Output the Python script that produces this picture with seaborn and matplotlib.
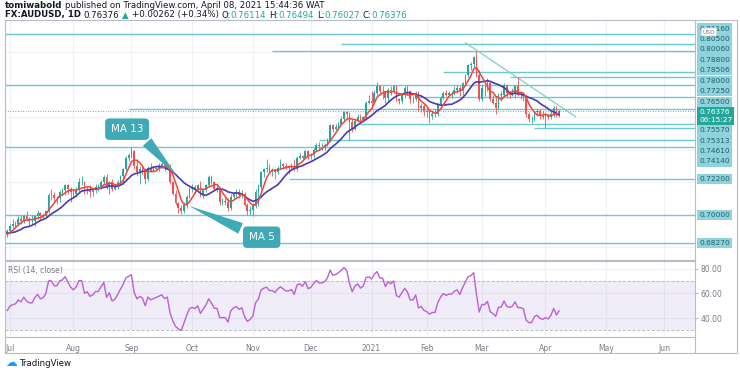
import numpy as np
import pandas as pd
import matplotlib
matplotlib.use('Agg')
import matplotlib.pyplot as plt
import matplotlib.transforms as mtransforms
import seaborn as sns

sns.set_style('white')
plt.rcParams['font.family'] = ['DejaVu Sans']

# ---- data (AUDUSD daily) ----
# June 2020 closes, only used to warm up the MA / RSI indicators
warmup_closes = [0.6960, 0.6960, 0.6950, 0.6990, 0.6970, 0.7010, 0.6850, 0.6870,
                 0.6920, 0.6900, 0.6870, 0.6860, 0.6850, 0.6920, 0.6910, 0.6870, 0.6880, 0.6860, 0.6880]
first_open = 0.6880

closes = [
    0.6900,  # Jun 30
    # Jul
    0.6930, 0.6940, 0.6945, 0.6970, 0.6960, 0.6990, 0.6970, 0.6960, 0.6960, 0.6990, 0.7010, 0.6990,
    0.6995, 0.7020, 0.7120, 0.7120, 0.7100, 0.7100, 0.7140, 0.7150, 0.7180, 0.7160, 0.7140,
    # Aug
    0.7130, 0.7150, 0.7200, 0.7200, 0.7150, 0.7160, 0.7140, 0.7150, 0.7170, 0.7170, 0.7200, 0.7230,
    0.7170, 0.7200, 0.7160, 0.7170, 0.7200, 0.7240, 0.7280, 0.7350, 0.7370,
    # Sep
    0.7390, 0.7300, 0.7260, 0.7280, 0.7270, 0.7220, 0.7290, 0.7270, 0.7280, 0.7290, 0.7300, 0.7310,
    0.7290, 0.7300, 0.7200, 0.7130, 0.7070, 0.7040, 0.7020, 0.7060, 0.7110, 0.7160,
    # Oct
    0.7170, 0.7160, 0.7180, 0.7120, 0.7150, 0.7180, 0.7230, 0.7200, 0.7160, 0.7160, 0.7080, 0.7080,
    0.7080, 0.7040, 0.7110, 0.7130, 0.7140, 0.7120, 0.7130, 0.7060, 0.7020, 0.7030,
    # Nov
    0.7050, 0.7140, 0.7170, 0.7260, 0.7280, 0.7290, 0.7270, 0.7270, 0.7260, 0.7290, 0.7310, 0.7300,
    0.7290, 0.7290, 0.7300, 0.7280, 0.7350, 0.7360, 0.7350, 0.7390, 0.7360,
    # Dec
    0.7370, 0.7400, 0.7430, 0.7420, 0.7420, 0.7430, 0.7460, 0.7550, 0.7530, 0.7540, 0.7560, 0.7590,
    0.7630, 0.7620, 0.7570, 0.7530, 0.7580, 0.7600, 0.7580, 0.7600, 0.7690, 0.7700,
    # Jan
    0.7690, 0.7750, 0.7790, 0.7760, 0.7760, 0.7720, 0.7770, 0.7760, 0.7790, 0.7710, 0.7700, 0.7740,
    0.7780, 0.7760, 0.7710, 0.7710, 0.7750, 0.7660, 0.7670, 0.7640,
    # Feb
    0.7630, 0.7610, 0.7620, 0.7620, 0.7680, 0.7720, 0.7750, 0.7740, 0.7750, 0.7750, 0.7770, 0.7780,
    0.7760, 0.7810, 0.7860, 0.7920, 0.7930, 0.7970, 0.7860, 0.7710,
    # Mar
    0.7780, 0.7780, 0.7810, 0.7710, 0.7690, 0.7660, 0.7740, 0.7740, 0.7800, 0.7750, 0.7740, 0.7750,
    0.7790, 0.7740, 0.7740, 0.7730, 0.7620, 0.7590, 0.7590, 0.7630, 0.7640, 0.7610, 0.7600,
    # Apr
    0.7610, 0.7600, 0.7620, 0.7660, 0.7611, 0.76376,
]

highs = [
    0.6910,
    0.6945, 0.6975, 0.6960, 0.6990, 0.6995, 0.7000, 0.7020, 0.6985, 0.7000, 0.6995, 0.7030, 0.7015,
    0.7010, 0.7025, 0.7135, 0.7160, 0.7140, 0.7115, 0.7150, 0.7165, 0.7190, 0.7190, 0.7170,
    0.7160, 0.7170, 0.7225, 0.7240, 0.7210, 0.7170, 0.7185, 0.7165, 0.7190, 0.7190, 0.7215, 0.7245,
    0.7250, 0.7210, 0.7220, 0.7190, 0.7215, 0.7245, 0.7290, 0.7360, 0.7380,
    0.7414, 0.7400, 0.7340, 0.7300, 0.7300, 0.7290, 0.7300, 0.7320, 0.7300, 0.7300, 0.7320, 0.7345,
    0.7320, 0.7320, 0.7310, 0.7210, 0.7150, 0.7080, 0.7060, 0.7075, 0.7120, 0.7170,
    0.7190, 0.7180, 0.7190, 0.7210, 0.7160, 0.7190, 0.7243, 0.7240, 0.7210, 0.7190, 0.7170, 0.7100,
    0.7110, 0.7100, 0.7130, 0.7140, 0.7160, 0.7160, 0.7150, 0.7140, 0.7070, 0.7050,
    0.7070, 0.7160, 0.7190, 0.7270, 0.7290, 0.7340, 0.7310, 0.7290, 0.7280, 0.7300, 0.7340, 0.7320,
    0.7320, 0.7300, 0.7320, 0.7340, 0.7360, 0.7380, 0.7370, 0.7400, 0.7400,
    0.7380, 0.7410, 0.7440, 0.7450, 0.7440, 0.7440, 0.7470, 0.7560, 0.7560, 0.7560, 0.7570, 0.7610,
    0.7640, 0.7640, 0.7630, 0.7590, 0.7590, 0.7620, 0.7620, 0.7610, 0.7700, 0.7740,
    0.7760, 0.7770, 0.7820, 0.7800, 0.7790, 0.7760, 0.7780, 0.7790, 0.7800, 0.7800, 0.7720, 0.7750,
    0.7790, 0.7800, 0.7770, 0.7730, 0.7760, 0.7760, 0.7690, 0.7680,
    0.7660, 0.7650, 0.7640, 0.7650, 0.7690, 0.7730, 0.7760, 0.7770, 0.7760, 0.7760, 0.7790, 0.7800,
    0.7790, 0.7820, 0.7870, 0.7930, 0.7940, 0.7980, 0.8007, 0.7890,
    0.7800, 0.7800, 0.7840, 0.7820, 0.7740, 0.7730, 0.7750, 0.7760, 0.7810, 0.7800, 0.7760, 0.7780,
    0.7800, 0.7849, 0.7760, 0.7750, 0.7740, 0.7630, 0.7610, 0.7640, 0.7650, 0.7650, 0.7640,
    0.7630, 0.7620, 0.7640, 0.7670, 0.7670, 0.76494,
]

lows = [
    0.6860,
    0.6880, 0.6920, 0.6925, 0.6930, 0.6945, 0.6950, 0.6960, 0.6930, 0.6945, 0.6930, 0.6975, 0.6965,
    0.6975, 0.6985, 0.7010, 0.7090, 0.7075, 0.7065, 0.7080, 0.7115, 0.7120, 0.7130, 0.7080,
    0.7110, 0.7110, 0.7140, 0.7180, 0.7130, 0.7130, 0.7110, 0.7115, 0.7135, 0.7145, 0.7160, 0.7190,
    0.7160, 0.7130, 0.7145, 0.7150, 0.7160, 0.7180, 0.7190, 0.7270, 0.7330,
    0.7350, 0.7280, 0.7240, 0.7190, 0.7250, 0.7190, 0.7210, 0.7260, 0.7260, 0.7270, 0.7270, 0.7290,
    0.7270, 0.7280, 0.7190, 0.7120, 0.7060, 0.7010, 0.7006, 0.7010, 0.7040, 0.7100,
    0.7140, 0.7130, 0.7150, 0.7110, 0.7100, 0.7140, 0.7170, 0.7190, 0.7150, 0.7140, 0.7060, 0.7060,
    0.7060, 0.7020, 0.7030, 0.7090, 0.7110, 0.7100, 0.7100, 0.7050, 0.7000, 0.6995,
    0.6991, 0.7040, 0.7050, 0.7160, 0.7230, 0.7260, 0.7260, 0.7240, 0.7220, 0.7250, 0.7280, 0.7280,
    0.7280, 0.7250, 0.7280, 0.7270, 0.7270, 0.7340, 0.7340, 0.7350, 0.7340,
    0.7340, 0.7350, 0.7390, 0.7400, 0.7400, 0.7400, 0.7420, 0.7450, 0.7510, 0.7520, 0.7520, 0.7550,
    0.7580, 0.7590, 0.7462, 0.7510, 0.7520, 0.7570, 0.7570, 0.7570, 0.7590, 0.7680,
    0.7660, 0.7680, 0.7740, 0.7740, 0.7710, 0.7690, 0.7700, 0.7740, 0.7750, 0.7700, 0.7680, 0.7690,
    0.7720, 0.7740, 0.7690, 0.7690, 0.7700, 0.7640, 0.7630, 0.7610,
    0.7600, 0.7564, 0.7590, 0.7600, 0.7610, 0.7670, 0.7710, 0.7730, 0.7730, 0.7720, 0.7740, 0.7750,
    0.7730, 0.7740, 0.7800, 0.7850, 0.7890, 0.7900, 0.7850, 0.7700,
    0.7700, 0.7730, 0.7760, 0.7700, 0.7680, 0.7622, 0.7650, 0.7700, 0.7730, 0.7720, 0.7720, 0.7730,
    0.7720, 0.7730, 0.7710, 0.7700, 0.7600, 0.7570, 0.7565, 0.7580, 0.7610, 0.7590, 0.7590,
    0.7532, 0.7590, 0.7590, 0.7600, 0.7600, 0.76027,
]

# drawn horizontal levels: price and the day each line starts (None = full width)
levels = [0.81160, 0.80500, 0.80060, 0.78800, 0.78506, 0.78000, 0.77250, 0.76500,
          0.75570, 0.75313, 0.74610, 0.74140, 0.72200, 0.70000, 0.68270]
level_starts = [None, '2020-12-16', '2020-11-11', '2021-02-09', '2021-03-15', None, '2021-01-26',
                '2020-08-31', '2020-12-28', '2021-03-26', '2020-12-04', None, '2020-11-19', None, None]
last_price = 0.76376
countdown = '06:15:27'

trend_dates = ['2021-02-19', '2021-04-16']
trend_prices = [0.8060, 0.7603]

month_labels = ['Jul', 'Aug', 'Sep', 'Oct', 'Nov', 'Dec', '2021', 'Feb', 'Mar', 'Apr', 'May', 'Jun']

# ---- trading-day axis ----
holidays = pd.to_datetime(['2020-12-25', '2021-01-01'])
all_days = pd.bdate_range('2020-06-30', '2021-06-30').drop(holidays)
n = len(closes)
x = np.arange(n)

c = np.array(closes)
o = np.r_[first_open, c[:-1]]
h = np.array(highs)
l = np.array(lows)

full = pd.Series(warmup_closes + closes)
ma5 = full.rolling(5).mean().values[-n:]
ma13 = full.rolling(13).mean().values[-n:]


def rma(s, period=14):
    # Wilder's smoothing, seeded with a simple mean
    out = np.full(len(s), np.nan)
    out[period] = s[1:period + 1].mean()
    for i in range(period + 1, len(s)):
        out[i] = (out[i - 1] * (period - 1) + s[i]) / period
    return out


delta = full.diff().values
gain = rma(np.clip(delta, 0, None))
loss = rma(np.clip(-delta, 0, None))
rsi = (100 - 100 / (1 + gain / loss))[-n:]

df = pd.DataFrame({'x': x, 'ma5': ma5, 'ma13': ma13, 'rsi': rsi})

month_pos = [int(np.where(all_days.to_period('M') == p)[0][0])
             for p in pd.period_range('2020-07', '2021-06', freq='M')]

# ---- figure ----
W, H = 740, 374
fig = plt.figure(figsize=(7.4, 3.74), dpi=100)
fig.patch.set_facecolor('white')
top_px, mid_px, bot_px = 20, 260, 337
ax = fig.add_axes([5 / W, 1 - mid_px / H, 690 / W, (mid_px - top_px) / H])
ax_rsi = fig.add_axes([5 / W, 1 - bot_px / H, 690 / W, (bot_px - mid_px - 1) / H], sharex=ax)

xlim = (-0.8, 249.2)
ylim = (0.6720, 0.8182)
grid_c = '#eef1f6'
frame_c = '#b8bcc6'
teal = '#26a69a'
red = '#ef5350'
level_c = '#6cc8d1'

ax.set_xlim(*xlim)
ax.set_ylim(*ylim)
ax.set_xticks(month_pos)
ax.set_yticks(np.arange(0.68, 0.821, 0.02))
ax.grid(True, color=grid_c, lw=0.8)
ax.tick_params(length=0, labelbottom=False, labelleft=False)

# level lines
for lv, st in zip(levels, level_starts):
    x0 = xlim[0] if st is None else all_days.get_loc(pd.Timestamp(st))
    ax.hlines(lv, x0, xlim[1], color=level_c, lw=1.0, zorder=1)
ax.axhline(last_price, color=teal, lw=0.6, ls=(0, (1, 2)), zorder=1)

# trend line
tx = [all_days.get_loc(pd.Timestamp(d)) for d in trend_dates]
ax.plot(tx, trend_prices, color='#7fcfc6', lw=0.9, zorder=2)

# candles
upm = c >= o
for mask, col in [(upm, teal), (~upm, red)]:
    ax.vlines(x[mask], l[mask], h[mask], color=col, lw=0.6, zorder=3)
    body = np.maximum(np.abs(c - o), 0.00025)[mask]
    ax.bar(x[mask], body, bottom=np.minimum(o, c)[mask], width=0.62, color=col, lw=0, zorder=3)

sns.lineplot(data=df, x='x', y='ma13', ax=ax, color='#4b3ab5', lw=1.2, zorder=4, legend=False)
sns.lineplot(data=df, x='x', y='ma5', ax=ax, color='#f44336', lw=1.1, zorder=4, legend=False)
ax.set_xlabel('')
ax.set_ylabel('')

# callouts
box_c = '#3fa9b5'
i13 = all_days.get_loc(pd.Timestamp('2020-09-24'))
i5 = all_days.get_loc(pd.Timestamp('2020-09-29'))
ax.annotate('MA 13', xy=(i13, ma13[i13]), xytext=(0.177, 0.545), textcoords='axes fraction',
            ha='center', va='center', color='white', fontsize=7.5, zorder=6,
            bbox=dict(boxstyle='round,pad=0.55,rounding_size=0.4', fc=box_c, ec='none'),
            arrowprops=dict(arrowstyle='wedge,tail_width=1.1,shrink_factor=0.5', fc=box_c, ec='none',
                            relpos=(0.85, 0.2)))
ax.annotate('MA 5', xy=(i5, ma5[i5]), xytext=(0.372, 0.095), textcoords='axes fraction',
            ha='center', va='center', color='white', fontsize=7.5, zorder=6,
            bbox=dict(boxstyle='round,pad=0.55,rounding_size=0.4', fc=box_c, ec='none'),
            arrowprops=dict(arrowstyle='wedge,tail_width=1.1,shrink_factor=0.5', fc=box_c, ec='none',
                            relpos=(0.2, 0.8)))


# price scale labels, stacked so they don't overlap
def to_px(v):
    return top_px + (ylim[1] - v) / (ylim[1] - ylim[0]) * (mid_px - top_px)


def to_val(p):
    return ylim[1] - (p - top_px) / (mid_px - top_px) * (ylim[1] - ylim[0])


items = [(to_px(v), 10.6, '%.5f' % v, False) for v in levels]
items.append((to_px(last_price), 18.0, '%.5f\n%s' % (last_price, countdown), True))
items.sort(key=lambda t: t[0])
clusters = [[i] for i in range(len(items))]


def place(cl):
    offs, acc = [], 0
    for i in cl:
        offs.append(acc + items[i][1] / 2)
        acc += items[i][1]
    top = np.mean([items[i][0] - of for i, of in zip(cl, offs)])
    return top, acc, offs


changed = True
while changed:
    changed = False
    for k in range(len(clusters) - 1):
        t1, h1, _ = place(clusters[k])
        t2, _, _ = place(clusters[k + 1])
        if t1 + h1 > t2:
            clusters[k] = clusters[k] + clusters[k + 1]
            del clusters[k + 1]
            changed = True
            break

trans = mtransforms.blended_transform_factory(ax.transAxes, ax.transData)
for cl in clusters:
    top, _, offs = place(cl)
    for i, of in zip(cl, offs):
        _, _, txt, cur = items[i]
        yv = to_val(top + of)
        ax.text(1.006, yv, txt, transform=trans, ha='left', va='center', clip_on=False,
                fontsize=5.3, color='white' if cur else '#1f5f6a', linespacing=1.25, zorder=7,
                bbox=dict(boxstyle='square,pad=0.28', fc=teal if cur else '#8fd4dc', ec='none'))

# small currency badge, drawn over the label column as in the snapshot
fig.text(709 / W, 1 - 32 / H, 'USD', fontsize=4.2, color='#787b86', ha='center', va='center',
         zorder=8, bbox=dict(boxstyle='round,pad=0.25', fc='white', ec='#d1d4dc', lw=0.5))

for s in ['top', 'left', 'right', 'bottom']:
    ax.spines[s].set_color(frame_c)
    ax.spines[s].set_linewidth(0.8)

# ---- RSI panel ----
ax_rsi.set_ylim(24.5, 86.5)
ax_rsi.axhspan(30, 70, color='#7e57c2', alpha=0.1, lw=0)
for lv in (30, 70):
    ax_rsi.axhline(lv, color='#b9b9c4', lw=0.7, ls=(0, (3, 2)))
sns.lineplot(data=df, x='x', y='rsi', ax=ax_rsi, color='#b860d8', lw=1.0, legend=False)
ax_rsi.set_xlabel('')
ax_rsi.set_ylabel('')
ax_rsi.set_yticks([40, 60, 80])
ax_rsi.set_yticklabels(['40.00', '60.00', '80.00'])
ax_rsi.yaxis.tick_right()
ax_rsi.grid(True, color=grid_c, lw=0.8)
ax_rsi.set_xticks(month_pos)
ax_rsi.set_xticklabels(month_labels)
ax_rsi.tick_params(axis='y', length=2, pad=2, labelsize=5.5, labelcolor='#787b86', color=frame_c)
ax_rsi.tick_params(axis='x', length=0, pad=5, labelsize=5.5, labelcolor='#787b86')
ax_rsi.text(0.005, 0.87, 'RSI (14, close)', transform=ax_rsi.transAxes, fontsize=5.5,
            color='#787b86', ha='left', va='center')
for s in ['top', 'left', 'right', 'bottom']:
    ax_rsi.spines[s].set_color(frame_c)
    ax_rsi.spines[s].set_linewidth(0.8)

# outer frame of the snapshot
fig.add_artist(plt.Line2D([5 / W, 737 / W], [1 - 353 / H] * 2, color=frame_c, lw=0.8))
fig.add_artist(plt.Line2D([5 / W] * 2, [1 - 337 / H, 1 - 353 / H], color=frame_c, lw=0.8))
fig.add_artist(plt.Line2D([695 / W] * 2, [1 - 337 / H, 1 - 353 / H], color=frame_c, lw=0.8))
fig.add_artist(plt.Line2D([737 / W] * 2, [1 - top_px / H, 1 - 353 / H], color=frame_c, lw=0.8))
fig.add_artist(plt.Line2D([695 / W, 737 / W], [1 - top_px / H] * 2, color=frame_c, lw=0.8))

# ---- header ----
dark = '#131722'
renderer = fig.canvas.get_renderer()


def text_w(s, **kw):
    t = fig.text(0, 0, s, fontsize=6.2, **kw)
    w = t.get_window_extent(renderer).width
    t.remove()
    return w


sp = text_w('x x') - text_w('xx')


def seg_line(parts, y0):
    xp = 5
    for txt, col, wt, gap in parts:
        t = fig.text(xp / W, 1 - y0 / H, txt, fontsize=6.2, color=col, fontweight=wt,
                     ha='left', va='center')
        xp += t.get_window_extent(renderer).width
        if gap:
            xp += sp


seg_line([('tomiwabold', dark, 'bold', True),
          ('published on TradingView.com, April 08, 2021 15:44:36 WAT', dark, 'normal', False)], 5)
seg_line([('FX:AUDUSD, 1D', dark, 'bold', True),
          ('0.76376', dark, 'normal', True),
          ('\u25B2', teal, 'normal', True),
          ('+0.00262 (+0.34%)', dark, 'normal', True),
          ('O:', dark, 'normal', False), ('0.76114', teal, 'normal', True),
          ('H:', dark, 'normal', False), ('0.76494', teal, 'normal', True),
          ('L:', dark, 'normal', False), ('0.76027', teal, 'normal', True),
          ('C:', dark, 'normal', False), ('0.76376', teal, 'normal', False)], 15)

# TradingView logo line
fig.text(5 / W, 1 - 362 / H, '\u2601', fontsize=8.5, color='#2196f3', ha='left', va='center')
fig.text(20 / W, 1 - 363 / H, 'TradingView', fontsize=6.2, color=dark, ha='left', va='center')

fig.savefig('out.png', dpi=100, facecolor='white')
